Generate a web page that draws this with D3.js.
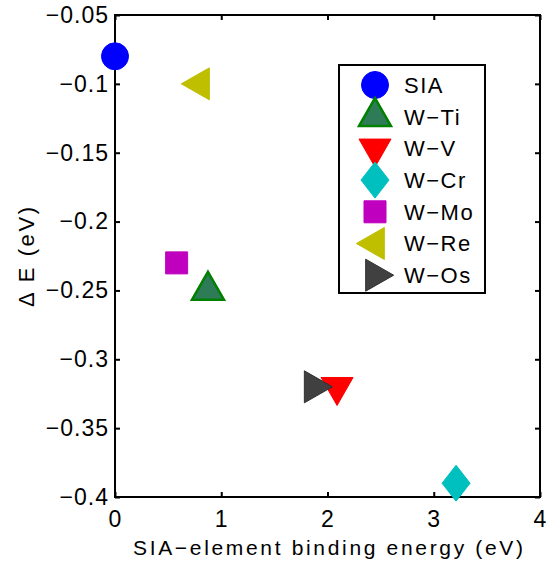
<!DOCTYPE html>
<html>
<head>
<meta charset="utf-8">
<script src="https://cdn.jsdelivr.net/npm/d3@7"></script>
<style>
  body { margin: 0; background: #fff; }
  text { font-family: "Liberation Sans", Arial, sans-serif; fill: #000; }
</style>
</head>
<body>
<svg width="549" height="568"></svg>
<script>
// data
var names = ["SIA", "W\u2212Ti", "W\u2212V", "W\u2212Cr", "W\u2212Mo", "W\u2212Re", "W\u2212Os"];
var bindEnergy = [0, 0.875, 2.09, 3.21, 0.58, 0.8, 1.87];
var deltaE = [-0.08, -0.25, -0.32, -0.39, -0.23, -0.1, -0.32];
var shapes = ["circle", "up", "down", "diamond", "square", "left", "right"];
var fills = ["#0000ff", "#2e7b57", "#ff0000", "#00bfbf", "#bf00bf", "#bfbf00", "#404040"];
var edges = ["#0000ff", "#008000", "#ff0000", "#00bfbf", "#bf00bf", "#bfbf00", "#303030"];
var xTicks = [0, 1, 2, 3, 4];
var yTicks = [-0.05, -0.1, -0.15, -0.2, -0.25, -0.3, -0.35, -0.4];

var svg = d3.select("svg");
var margin = {top: 15, right: 9, bottom: 71, left: 115};
var width = +svg.attr("width");
var height = +svg.attr("height");

var x = d3.scaleLinear().domain([0, 4]).range([margin.left, width - margin.right]);
var y = d3.scaleLinear().domain([-0.4, -0.05]).range([height - margin.bottom, margin.top]);

var fmt = function(d){ return d3.format("")(d).replace("-", "\u2212"); };

// marker paths, triangles centred on centroid like matlab
var markerPath = function(shape){
    var s = 16;
    var h = 28;
    switch(shape){
        case "circle": return d3.symbol(d3.symbolCircle, Math.PI * 13.5 * 13.5)();
        case "up": return "M0," + (-2*h/3) + "L" + s + "," + (h/3) + "L" + (-s) + "," + (h/3) + "Z";
        case "down": return "M0," + (2*h/3) + "L" + s + "," + (-h/3) + "L" + (-s) + "," + (-h/3) + "Z";
        case "left": return "M" + (-2*h/3) + ",0L" + (h/3) + "," + (-s) + "L" + (h/3) + "," + s + "Z";
        case "right": return "M" + (2*h/3) + ",0L" + (-h/3) + "," + (-s) + "L" + (-h/3) + "," + s + "Z";
        case "diamond": return "M0,-18L14,0L0,18L-14,0Z";
        case "square": return "M-11,-11H11V11H-11Z";
    }
};
var strokeW = function(i){ return shapes[i] === "up" ? 2.5 : 1; };

// axes box
var plotW = x(4) - x(0), plotH = y(-0.4) - y(-0.05);
svg.append("rect")
    .attr("x", x(0)).attr("y", y(-0.05))
    .attr("width", plotW).attr("height", plotH)
    .attr("fill", "none").attr("stroke", "#000").attr("stroke-width", 2);

// ticks inside, mirrored on top/right
svg.append("g").attr("transform", "translate(0," + y(-0.4) + ")")
    .call(d3.axisBottom(x).tickValues(xTicks).tickSize(-5).tickPadding(14).tickFormat(fmt));
svg.append("g").attr("transform", "translate(0," + y(-0.05) + ")")
    .call(d3.axisTop(x).tickValues(xTicks).tickSize(-5).tickFormat(""));
svg.append("g").attr("transform", "translate(" + x(0) + ",0)")
    .call(d3.axisLeft(y).tickValues(yTicks).tickSize(-5).tickPadding(6).tickFormat(fmt));
svg.append("g").attr("transform", "translate(" + x(4) + ",0)")
    .call(d3.axisRight(y).tickValues(yTicks).tickSize(-5).tickFormat(""));

svg.selectAll(".domain").remove();
svg.selectAll(".tick line").attr("stroke", "#000").attr("stroke-width", 2);
svg.selectAll(".tick text")
    .attr("font-size", 23)
    .attr("letter-spacing", "1px")
    .attr("font-family", "Liberation Sans, Arial, sans-serif")
    .attr("fill", "#000");

// axis labels
svg.append("text")
    .attr("x", 133).attr("y", 555)
    .attr("font-size", 21)
    .attr("textLength", 390).attr("lengthAdjust", "spacing")
    .text("SIA\u2212element binding energy (eV)");
svg.append("text")
    .attr("transform", "translate(34,307) rotate(-90)")
    .attr("font-size", 22)
    .attr("textLength", 100).attr("lengthAdjust", "spacing")
    .text("\u0394 E (eV)");

// data markers
svg.append("g").selectAll("path")
    .data(names).enter()
    .append("path")
    .attr("transform", (d, i) => "translate(" + x(bindEnergy[i]) + "," + y(deltaE[i]) + ")")
    .attr("d", (d, i) => markerPath(shapes[i]))
    .attr("fill", (d, i) => fills[i])
    .attr("stroke", (d, i) => edges[i])
    .attr("stroke-width", (d, i) => strokeW(i));

// legend
var lg = svg.append("g");
lg.append("rect")
    .attr("x", 339).attr("y", 65).attr("width", 146).attr("height", 228)
    .attr("fill", "#fff").attr("stroke", "#000").attr("stroke-width", 2);
var rows = lg.selectAll("g.row")
    .data(names).enter()
    .append("g").attr("class", "row")
    .attr("transform", (d, i) => "translate(375," + (85 + i * 31.7) + ")");
rows.append("path")
    .attr("d", (d, i) => markerPath(shapes[i]))
    .attr("fill", (d, i) => fills[i])
    .attr("stroke", (d, i) => edges[i])
    .attr("stroke-width", (d, i) => strokeW(i));
rows.append("text")
    .attr("x", 29).attr("dy", "0.36em")
    .attr("font-size", 22)
    .attr("letter-spacing", "1.5px")
    .text(d => d);
</script>
</body>
</html>
